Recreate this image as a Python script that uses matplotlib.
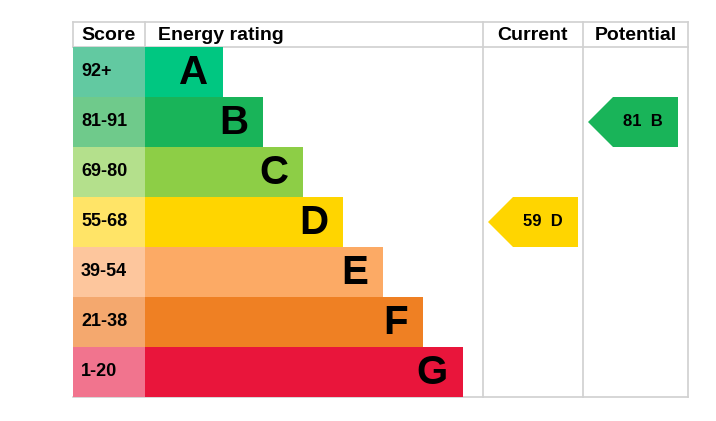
import matplotlib
matplotlib.use("Agg")
import matplotlib.pyplot as plt
from matplotlib.patches import Polygon

plt.rcParams['font.family'] = ['Liberation Sans', 'DejaVu Sans']

# ---- data ----
bands = ["A", "B", "C", "D", "E", "F", "G"]
score_ranges = ["92+", "81-91", "69-80", "55-68", "39-54", "21-38", "1-20"]
band_min = [92, 81, 69, 55, 39, 21, 1]
band_colors = ["#00c781", "#19b459", "#8dce46", "#ffd500", "#fcaa65", "#ef8023", "#e9153b"]
score_colors = ["#62c9a1", "#6fca8b", "#b4e08c", "#ffe467", "#fdc69d", "#f4a86e", "#f1748e"]
headers = ["Score", "Energy rating", "Current", "Potential"]
current_score = 59
potential_score = 81

# ---- layout (pixel units) ----
W, H = 716, 421
x_score, x_energy, x_cur, x_pot, x_end = 73, 145, 483, 583, 688
y_top, y_head = 22, 47
row_h = 50
bar_base, bar_step = 78, 40
grid = "#d0d0d0"

fig = plt.figure(figsize=(W / 100, H / 100), dpi=100)
ax = fig.add_axes([0, 0, 1, 1])
ax.set_xlim(0, W)
ax.set_ylim(H, 0)
ax.axis("off")

n = len(bands)
y_bottom = y_head + n * row_h
centers = [y_head + row_h * (i + 0.5) for i in range(n)]
lengths = [bar_base + bar_step * i for i in range(n)]

# grid lines
ax.plot([x_score, x_end], [y_top, y_top], color=grid, lw=1.2, zorder=1)
ax.plot([x_score, x_end], [y_head - 0.5, y_head - 0.5], color=grid, lw=1.2, zorder=1)
ax.plot([x_score, x_end], [y_bottom, y_bottom], color=grid, lw=1.2, zorder=1)
for xv in (x_score, x_energy):
    ax.plot([xv, xv], [y_top, y_head], color=grid, lw=1.2, zorder=1)
for xv in (x_cur, x_pot, x_end):
    ax.plot([xv, xv], [y_top, y_bottom], color=grid, lw=1.2, zorder=1)

# header text
hy = (y_top + y_head) / 2 + 1
hfs = 14
ax.text(x_score + 8, hy, headers[0], ha="left", va="center", fontsize=hfs, fontweight="bold")
ax.text(x_energy + 13, hy, headers[1], ha="left", va="center", fontsize=hfs, fontweight="bold")
ax.text((x_cur + x_pot) / 2, hy, headers[2], ha="center", va="center", fontsize=hfs, fontweight="bold")
ax.text((x_pot + x_end) / 2, hy, headers[3], ha="center", va="center", fontsize=hfs, fontweight="bold")

# score cells and bars
ax.barh(centers, [x_energy - x_score] * n, left=x_score, height=row_h,
        color=score_colors, edgecolor="none", zorder=2)
ax.barh(centers, lengths, left=x_energy, height=row_h,
        color=band_colors, edgecolor="none", zorder=2)
for i in range(n):
    ax.text(x_score + 8, centers[i] - 1, score_ranges[i], ha="left", va="center",
            fontsize=13, fontweight="bold", zorder=3)
    ax.text(x_energy + lengths[i] - 15, centers[i] + 1, bands[i], ha="right", va="center",
            fontsize=29, fontweight="bold", zorder=3)


def band_index(score):
    for i, m in enumerate(band_min):
        if score >= m:
            return i
    return n - 1


def arrow(x0, score):
    i = band_index(score)
    top = y_head + row_h * i
    bot = top + row_h
    mid = (top + bot) / 2
    tip = x0 + 5
    corner = tip + 25
    right = tip + 90
    poly = Polygon([(tip, mid), (corner, top), (right, top), (right, bot), (corner, bot)],
                   closed=True, facecolor=band_colors[i], edgecolor="none", zorder=2)
    ax.add_patch(poly)
    ax.text((corner + right) / 2 - 3, mid, f"{score}  {bands[i]}", ha="center", va="center",
            fontsize=12, fontweight="bold", zorder=3)


arrow(x_cur, current_score)
arrow(x_pot, potential_score)

fig.savefig("out.png", dpi=100, facecolor="white")
